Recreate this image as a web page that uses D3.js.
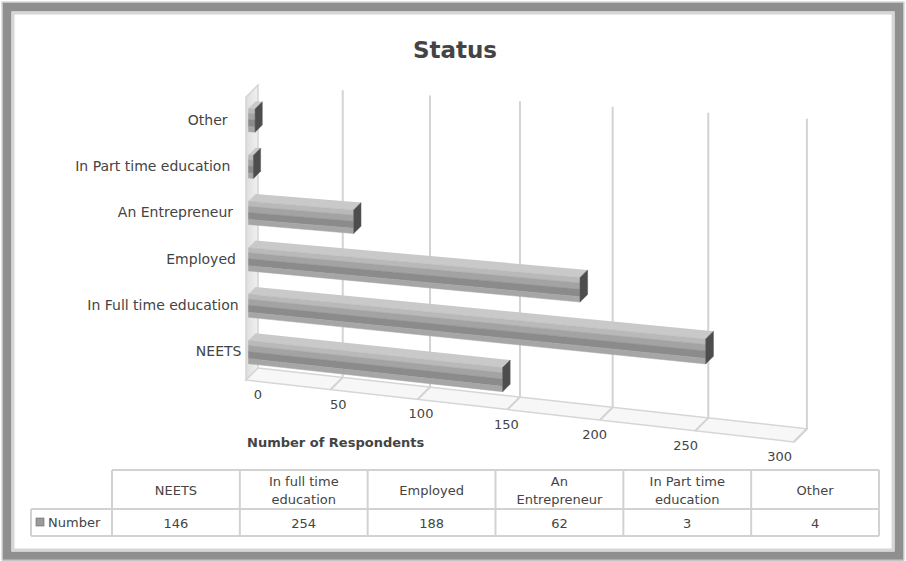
<!DOCTYPE html>
<html>
<head>
<meta charset="utf-8">
<script src="https://cdn.jsdelivr.net/npm/d3@7"></script>
<style>
  html, body { margin: 0; padding: 0; background: #ffffff; }
  svg { display: block; }
  text { font-family: "DejaVu Sans", sans-serif; fill: #444444; }
</style>
</head>
<body>
<script>
// ---- data ----
const categories = ["NEETS", "In Full time education", "Employed", "An Entrepreneur", "In Part time education", "Other"];
const values = [146, 254, 188, 62, 3, 4];
const tableHeaders = [["NEETS"], ["In full time", "education"], ["Employed"], ["An", "Entrepreneur"], ["In Part time", "education"], ["Other"]];
const seriesName = "Number";
const valueTicks = [0, 50, 100, 150, 200, 250, 300];
const chartTitle = "Status";
const axisTitle = "Number of Respondents";

const W = 906, H = 561;
const svg = d3.select("body").append("svg").attr("width", W).attr("height", H);

// ---- 3D box projection ----
const maxV = 300;
const wallH = 283;
const runX = d3.scaleLinear().domain([0, maxV]).range([0, 478.7]);   // horizontal run along value axis
const runY = d3.scaleLinear().domain([0, maxV]).range([0, 23.5]);    // vertical drift along value axis
const persp = d3.scaleLinear().domain([0, maxV]).range([1, 0.913]);  // perspective divisor
const depthX = d3.scaleLinear().domain([0, 1]).range([0, -12]);
const depthY = d3.scaleLinear().domain([0, 1]).range([0, 12]);
const origin = { x: 258, y: 85 };

// categories are listed bottom-up, so the band runs top-down on the reversed list
const band = d3.scaleBand().domain(categories.slice().reverse()).range([0, wallH])
  .paddingInner(0.5).paddingOuter(0.3);

function proj(v, u, z) {
  const w = persp(v);
  return [(origin.x + runX(v) + depthX(z)) / w, (origin.y + runY(v) + u + depthY(z)) / w];
}
const poly = pts => pts.map(p => p.join(",")).join(" ");

// ---- frame ----
svg.append("rect").attr("x", 0).attr("y", 0).attr("width", W).attr("height", H).attr("fill", "#ffffff");
svg.append("rect").attr("x", 7).attr("y", 7).attr("width", W - 14).attr("height", H - 12)
  .attr("fill", "none").attr("stroke", "#8f8f8f").attr("stroke-width", 9);
svg.append("rect").attr("x", 13).attr("y", 13).attr("width", W - 26).attr("height", H - 24)
  .attr("fill", "none").attr("stroke", "#d6d6d6").attr("stroke-width", 3);
svg.append("rect").attr("x", 2).attr("y", 2).attr("width", W - 4).attr("height", H - 3)
  .attr("fill", "none").attr("stroke", "#c4c4c4").attr("stroke-width", 1);

// ---- title ----
svg.append("text").attr("x", 455).attr("y", 58).attr("text-anchor", "middle")
  .attr("font-size", 23).attr("font-weight", "bold").attr("fill", "#333333").text(chartTitle);

// ---- walls and floor ----
const defs = svg.append("defs");
const sideGrad = defs.append("linearGradient").attr("id", "side").attr("x1", 0).attr("x2", 1).attr("y1", 0).attr("y2", 0);
sideGrad.append("stop").attr("offset", 0).attr("stop-color", "#dedede");
sideGrad.append("stop").attr("offset", 1).attr("stop-color", "#f0f0f0");

const g = svg.append("g");
g.append("polygon")
  .attr("points", poly([proj(0, 0, 0), proj(0, wallH, 0), proj(0, wallH, 1), proj(0, 0, 1)]))
  .attr("fill", "url(#side)").attr("stroke", "#d4d4d4").attr("stroke-width", 1.5);
g.append("polygon")
  .attr("points", poly([proj(0, wallH, 0), proj(maxV, wallH, 0), proj(maxV, wallH, 1), proj(0, wallH, 1)]))
  .attr("fill", "#f7f7f7").attr("stroke", "#d6d6d6").attr("stroke-width", 1.5);

// gridlines on back wall and floor
valueTicks.forEach(v => {
  if (v === 0) return;
  g.append("polyline")
    .attr("points", poly([proj(v, 0, 0), proj(v, wallH, 0), proj(v, wallH, 1)]))
    .attr("fill", "none").attr("stroke", "#d3d3d3").attr("stroke-width", 2);
});

// ---- bars ----
const z0 = 0.2, z1 = 0.8;
const stripes = [
  { a: 0.00, b: 0.22, c: "#b9b9b9" },
  { a: 0.22, b: 0.48, c: "#a3a3a3" },
  { a: 0.48, b: 0.78, c: "#8b8b8b" },
  { a: 0.78, b: 1.00, c: "#a6a6a6" }
];
// category labels sit along the slanted left edge of the plot
const labelEnd = d3.scaleLinear().domain([0, wallH]).range([226, 243]);
categories.forEach((cat, i) => {
  const v = values[i];
  const u0 = band(cat), u1 = u0 + band.bandwidth();
  const bg = g.append("g");
  // top face
  bg.append("polygon")
    .attr("points", poly([proj(0, u0, z0), proj(v, u0, z0), proj(v, u0, z1), proj(0, u0, z1)]))
    .attr("fill", "#c9c9c9");
  // front face, shaded in bands to read as rounded
  stripes.forEach(s => {
    const ua = u0 + s.a * (u1 - u0), ub = u0 + s.b * (u1 - u0);
    bg.append("polygon")
      .attr("points", poly([proj(0, ua, z1), proj(v, ua, z1), proj(v, ub, z1), proj(0, ub, z1)]))
      .attr("fill", s.c).attr("stroke", s.c).attr("stroke-width", 0.5);
  });
  // end cap
  bg.append("polygon")
    .attr("points", poly([proj(v, u0, z0), proj(v, u1, z0), proj(v, u1, z1), proj(v, u0, z1)]))
    .attr("fill", "#4d4d4d").attr("stroke", "#5a5a5a").attr("stroke-width", 0.5);

  // category label
  const uc = u0 + band.bandwidth() / 2;
  const c = proj(0, uc, 0.5);
  svg.append("text").attr("x", labelEnd(uc)).attr("y", c[1] + 8).attr("text-anchor", "end")
    .attr("font-size", 14).text(cat);
});

// ---- value axis labels ----
const tickShift = d3.scaleLinear().domain([0, maxV]).range([12, -14]);
valueTicks.forEach(v => {
  const p = proj(v, wallH, 1);
  svg.append("text").attr("x", p[0] + tickShift(v)).attr("y", p[1] + 19)
    .attr("text-anchor", "middle").attr("font-size", 13).text(d3.format("d")(v));
});
svg.append("text").attr("x", 247).attr("y", 447).attr("font-size", 13)
  .attr("font-weight", "bold").text(axisTitle);

// ---- data table ----
const tableX = d3.scaleBand().domain(categories).range([112, 879]);
const tTop = 470, tMid = 509, tBot = 536, rowHeadX = 31;
const tg = svg.append("g").attr("stroke", "#d2d2d2").attr("stroke-width", 2).attr("fill", "none");
tg.append("line").attr("x1", 112).attr("x2", 879).attr("y1", tTop).attr("y2", tTop);
tg.append("line").attr("x1", rowHeadX).attr("x2", 879).attr("y1", tMid).attr("y2", tMid);
tg.append("line").attr("x1", rowHeadX).attr("x2", 879).attr("y1", tBot).attr("y2", tBot);
tg.append("line").attr("x1", rowHeadX).attr("x2", rowHeadX).attr("y1", tMid).attr("y2", tBot);
categories.forEach(cat => {
  tg.append("line").attr("x1", tableX(cat)).attr("x2", tableX(cat)).attr("y1", tTop).attr("y2", tBot);
});
tg.append("line").attr("x1", 879).attr("x2", 879).attr("y1", tTop).attr("y2", tBot);

categories.forEach((cat, i) => {
  const cx = tableX(cat) + tableX.bandwidth() / 2;
  const lines = tableHeaders[i];
  const lh = 18;
  const y0 = (tTop + tMid) / 2 - (lines.length - 1) * lh / 2 + 5;
  lines.forEach((ln, k) => {
    svg.append("text").attr("x", cx).attr("y", y0 + k * lh).attr("text-anchor", "middle")
      .attr("font-size", 13).text(ln);
  });
  svg.append("text").attr("x", cx).attr("y", (tMid + tBot) / 2 + 5).attr("text-anchor", "middle")
    .attr("font-size", 13).text(values[i]);
});
svg.append("rect").attr("x", 36).attr("y", 518).attr("width", 8).attr("height", 8)
  .attr("fill", "#9a9a9a").attr("stroke", "#666").attr("stroke-width", 0.6);
svg.append("text").attr("x", 48).attr("y", 527).attr("font-size", 13).text(seriesName);
</script>
</body>
</html>
